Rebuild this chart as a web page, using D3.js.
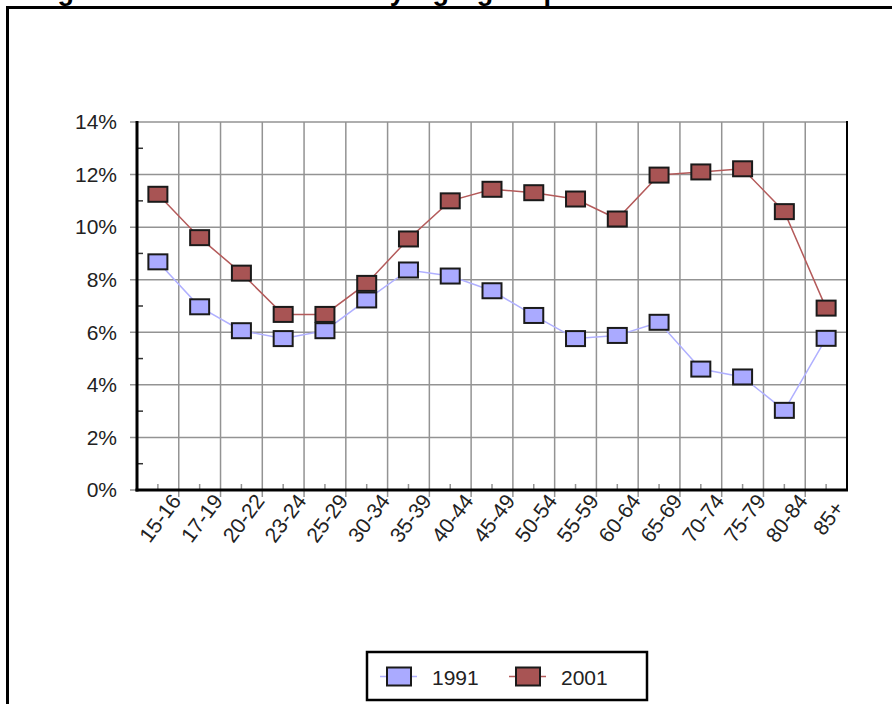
<!DOCTYPE html>
<html>
<head>
<meta charset="utf-8">
<script src="https://cdn.jsdelivr.net/npm/d3@7"></script>
<style>
  html, body { margin: 0; padding: 0; background: #fff; }
  svg { display: block; }
  text { font-family: Arial, "Liberation Sans", sans-serif; }
</style>
</head>
<body>
<svg id="chart" width="892" height="704"></svg>
<script>
const categories = ["15-16","17-19","20-22","23-24","25-29","30-34","35-39","40-44","45-49","50-54","55-59","60-64","65-69","70-74","75-79","80-84","85+"];
const values1991 = [8.68, 6.97, 6.06, 5.76, 6.06, 7.23, 8.37, 8.14, 7.58, 6.64, 5.76, 5.88, 6.38, 4.60, 4.30, 3.03, 5.77];
const values2001 = [11.25, 9.60, 8.25, 6.68, 6.68, 7.86, 9.55, 11.00, 11.44, 11.31, 11.07, 10.31, 11.98, 12.10, 12.22, 10.59, 6.92];
const seriesNames = ["1991", "2001"];
const yTicks = [0, 2, 4, 6, 8, 10, 12, 14];
const yMinorTicks = [1, 3, 5, 7, 9, 11, 13];
const titleText = "Figure 3: Divorce rates by age group";

const fills = { "1991": "#aaaaff", "2001": "#a85454" };
const lineColors = { "1991": "#b0b0ff", "2001": "#b45a5a" };

const svg = d3.select("#chart");

// outer frame
svg.append("rect").attr("x", 7.5).attr("y", 7.5).attr("width", 900).attr("height", 800)
  .attr("fill", "none").attr("stroke", "#000").attr("stroke-width", 3);

// title (mostly above the visible area, as in the reference)
svg.append("text").attr("x", 30).attr("y", 0)
  .attr("textLength", 530).attr("lengthAdjust", "spacing")
  .attr("font-family", "Arial, 'Liberation Sans', sans-serif")
  .attr("font-weight", "bold").attr("font-size", 27).text(titleText);

const L = 137, R = 847, T = 122, B = 490;
const x = d3.scaleBand().domain(categories).range([L, R]).padding(0);
const y = d3.scaleLinear().domain([0, 14]).range([B, T]);

// horizontal gridlines (extending left as major ticks)
svg.append("g").selectAll("line").data(yTicks).join("line")
  .attr("x1", L - 7).attr("x2", R).attr("y1", d => y(d)).attr("y2", d => y(d))
  .attr("stroke", "#939393").attr("stroke-width", 1.5);

// vertical gridlines at category boundaries (extending below axis)
const bounds = categories.map(c => x(c)).concat([R]);
svg.append("g").selectAll("line").data(bounds.slice(1, -1)).join("line")
  .attr("x1", d => d).attr("x2", d => d).attr("y1", T).attr("y2", B + 7)
  .attr("stroke", "#939393").attr("stroke-width", 1.5);

// minor y ticks
svg.append("g").selectAll("line").data(yMinorTicks).join("line")
  .attr("x1", L).attr("x2", L + 6).attr("y1", d => y(d)).attr("y2", d => y(d))
  .attr("stroke", "#333").attr("stroke-width", 1.5);

// minor x ticks at category centres
svg.append("g").selectAll("line").data(categories).join("line")
  .attr("x1", d => x(d) + x.bandwidth() / 2).attr("x2", d => x(d) + x.bandwidth() / 2)
  .attr("y1", B - 6).attr("y2", B)
  .attr("stroke", "#939393").attr("stroke-width", 1.5);

// axes lines
svg.append("line").attr("x1", R).attr("x2", R).attr("y1", T - 1).attr("y2", B)
  .attr("stroke", "#000").attr("stroke-width", 2);
svg.append("line").attr("x1", L).attr("x2", L).attr("y1", T - 1).attr("y2", B + 1.5)
  .attr("stroke", "#000").attr("stroke-width", 3);
svg.append("line").attr("x1", L - 1.5).attr("x2", R + 1).attr("y1", B).attr("y2", B)
  .attr("stroke", "#000").attr("stroke-width", 3);

// y axis labels via d3 axis
const yAxis = d3.axisLeft(y).tickValues(yTicks).tickFormat(d => d + "%").tickSize(0).tickPadding(20);
const gy = svg.append("g").attr("transform", `translate(${L},0)`).call(yAxis);
gy.select(".domain").remove();
gy.selectAll("text").attr("font-size", 21).attr("fill", "#222")
  .attr("font-family", "Arial, 'Liberation Sans', sans-serif");

// x labels rotated
svg.append("g").selectAll("text").data(categories).join("text")
  .attr("transform", d => `translate(${x(d) + x.bandwidth() / 2 + 2},${B + 28}) rotate(-53)`)
  .attr("text-anchor", "middle").attr("dominant-baseline", "central")
  .attr("font-size", 21).attr("fill", "#222").text(d => d);

// series
const series = [
  { name: "1991", values: values1991 },
  { name: "2001", values: values2001 }
];
const line = d3.line().x((d, i) => x(categories[i]) + x.bandwidth() / 2).y(d => y(d));
const mw = 19, mh = 15;
series.forEach(s => {
  svg.append("path").datum(s.values).attr("d", line)
    .attr("fill", "none").attr("stroke", lineColors[s.name]).attr("stroke-width", 1.5);
});
series.forEach(s => {
  svg.append("g").selectAll("rect").data(s.values).join("rect")
    .attr("x", (d, i) => x(categories[i]) + x.bandwidth() / 2 - mw / 2)
    .attr("y", d => y(d) - mh / 2)
    .attr("width", mw).attr("height", mh)
    .attr("fill", fills[s.name]).attr("stroke", "#1a1a1a").attr("stroke-width", 2);
});

// legend
const lg = svg.append("g");
lg.append("rect").attr("x", 367).attr("y", 652).attr("width", 280).attr("height", 48)
  .attr("fill", "#fff").attr("stroke", "#000").attr("stroke-width", 2.5);
const legendX = d3.scaleOrdinal().domain(seriesNames).range([380, 509]);
seriesNames.forEach(n => {
  const lx = legendX(n);
  lg.append("line").attr("x1", lx).attr("x2", lx + 37).attr("y1", 676.5).attr("y2", 676.5)
    .attr("stroke", lineColors[n]).attr("stroke-width", 1.5);
  lg.append("rect").attr("x", lx + 7).attr("y", 667.5).attr("width", 24).attr("height", 18)
    .attr("fill", fills[n]).attr("stroke", "#1a1a1a").attr("stroke-width", 2);
  lg.append("text").attr("x", lx + 52).attr("y", 684.5)
    .attr("font-size", 21).attr("fill", "#222").text(n);
});
</script>
</body>
</html>
